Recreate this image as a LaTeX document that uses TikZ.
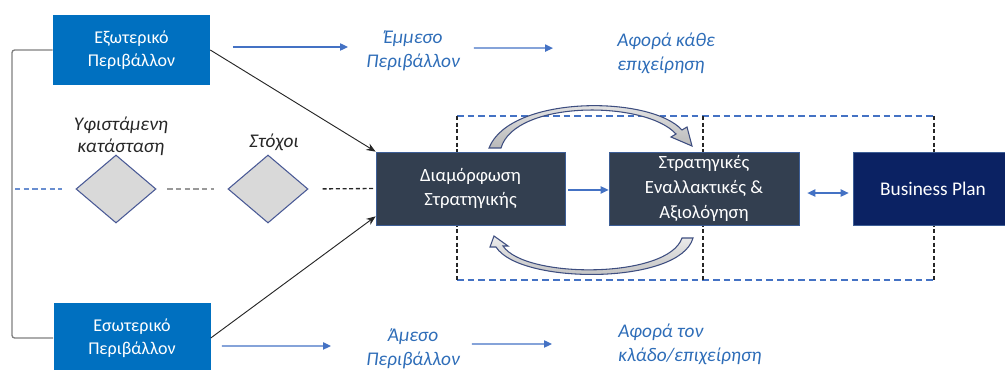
\documentclass[tikz,border=0pt]{standalone}
\usepackage{fontspec}
\setmainfont{Carlito}
\usetikzlibrary{arrows.meta,shapes.geometric}
\definecolor{envblue}{HTML}{0070C0}
\definecolor{slate}{HTML}{333F50}
\definecolor{navy}{HTML}{0B2263}
\definecolor{txtblue}{HTML}{2E6DB8}
\definecolor{arrblue}{HTML}{4472C4}
\definecolor{dmdfill}{HTML}{D9D9D9}
\definecolor{dmdline}{HTML}{4A5A96}
\definecolor{brkgray}{HTML}{7F7F7F}
\definecolor{curveline}{HTML}{3E4E80}
\definecolor{darktxt}{HTML}{262626}
\begin{document}
\begin{tikzpicture}[x=0.75pt,y=-0.75pt,
  envbox/.style={fill=envblue, text=white, minimum width=117.75pt, minimum height=52.5pt,
    inner sep=0pt, align=center, font=\fontsize{13.5}{17}\selectfont},
  darkbox/.style={fill=slate, draw=arrblue!60!slate, line width=0.5pt, text=white,
    minimum width=141.75pt, minimum height=54.75pt, inner sep=0pt, align=center,
    font=\fontsize{14}{18.5}\selectfont},
  diam/.style={diamond, fill=dmdfill, draw=dmdline, line width=0.8pt,
    minimum width=60pt, minimum height=51pt, inner sep=0pt},
  itxt/.style={text=darktxt, align=center, inner sep=0pt, font=\itshape\fontsize{14.5}{16.5}\selectfont},
  btxt/.style={text=txtblue, inner sep=0pt, font=\itshape\fontsize{14.5}{18}\selectfont},
  barrow/.style={draw=arrblue, line width=0.9pt, -{Triangle[length=6pt,width=5.5pt]}},
  dblarrow/.style={draw=arrblue, line width=0.9pt, {Triangle[length=6pt,width=5.5pt]}-{Triangle[length=6pt,width=5.5pt]}},
  karrow/.style={draw=black!85, line width=0.7pt, -{Stealth[length=7pt,width=5.5pt]}},
  brkline/.style={draw=brkgray, line width=1pt, rounded corners=2pt},
  bluedash/.style={draw=arrblue, line width=1pt, dash pattern=on 5pt off 3pt},
  blackdash/.style={draw=black!85, line width=1pt, dash pattern=on 3pt off 2pt},
  graydash/.style={draw=brkgray!80, line width=0.8pt, dash pattern=on 4pt off 2.5pt},
  lbluedash/.style={draw=arrblue!80, line width=0.8pt, dash pattern=on 4pt off 2.5pt},
  curvearrow/.style={draw=curveline, line width=0.8pt, top color=gray!15, bottom color=gray!55}
]
\useasboundingbox (0,0) rectangle (1005,370);
\clip (0,0) rectangle (1005,370);

% dashed frame (behind boxes)
\draw[bluedash] (457,116) -- (934,116);
\draw[bluedash] (457,280) -- (934,280);
\draw[blackdash] (457,116) -- (457,280);
\draw[blackdash] (703,116) -- (703,280);
\draw[blackdash] (934,116) -- (934,280);

% boxes
\node[envbox] (ext) at (131.5,50) {Εξωτερικό\\Περιβάλλον};
\node[envbox] (int) at (132,338) {Εσωτερικό\\Περιβάλλον};
\node[darkbox] (form) at (470.5,188.5) {Διαμόρφωση\\Στρατηγικής};
\node[darkbox, minimum width=142.5pt] (alt) at (704,188.5) {Στρατηγικές\\Εναλλακτικές \&\\Αξιολόγηση};
\node[darkbox, fill=navy, minimum width=120pt, font=\fontsize{14.5}{18}\selectfont] (bp) at (933,188.5) {Business Plan};

% diamonds and labels
\node[diam] (d1) at (116,189) {};
\node[diam] (d2) at (268,189) {};
\node[itxt] (yfist) at (121,136) {Υφιστάμενη\\κατάσταση};
\node[itxt] (stoxoi) at (274,142) {Στόχοι};
\coordinate (lstart) at (15,189);
\coordinate (brkc) at (12,190);

% blue texts
\node[btxt, align=center, minimum width=67.5pt] (emmeso) at (413,51) {Έμμεσο\\Περιβάλλον};
\node[btxt, align=left, anchor=west] (afora1) at (617,53.5) {Αφορά κάθε\\επιχείρηση};
\node[btxt, align=center, minimum width=67.5pt] (ameso) at (413,348.5) {Άμεσο\\Περιβάλλον};
\node[btxt, align=left, anchor=west] (afora2) at (618,344) {Αφορά τον\\κλάδο/επιχείρηση};

% bracket
\draw[brkline] (ext.west) -| (brkc) |- (int.west);

% dashed middle line
\draw[lbluedash, shorten >=10pt] (lstart) -- (d1.west);
\draw[graydash, shorten <=8pt, shorten >=10pt] (d1.east) -- (d2.west);
\draw[blackdash, shorten <=10.5pt] (d2.east) -- (form.west);

% diagonal arrows
\draw[karrow] (ext.east) -- (form.north west);
\draw[karrow] (int.east) -- ([yshift=6.75pt]form.south west);

% blue arrows top/bottom
\draw[barrow, shorten <=17pt, shorten >=13.5pt] ([yshift=2.25pt]ext.east) -- ([yshift=3pt]emmeso.west);
\draw[barrow, shorten <=10.5pt, shorten >=48pt] ([yshift=2.25pt]emmeso.east) -- ([yshift=4pt]afora1.west);
\draw[barrow, shorten <=8.25pt, shorten >=26.25pt] ([yshift=-6pt]int.east) -- ([yshift=1.9pt]ameso.west);
\draw[barrow, shorten <=9pt, shorten >=49.5pt] ([yshift=3.4pt]ameso.east) -- (afora2.west);

% arrows between boxes
\draw[barrow, shorten <=2.25pt] ([yshift=-1.1pt]form.east) -- ([yshift=-1.1pt]alt.west);
\draw[dblarrow, shorten <=6pt, shorten >=3pt] ([yshift=-3.4pt]alt.east) -- ([yshift=-3.4pt]bp.west);

% curved block arrows
\path[curvearrow] (489,148) .. controls (510,95) and (650,95) .. (682,130)
  -- (687,127) -- (692,146) -- (671,137) -- (676,134)
  .. controls (645,100) and (515,100) .. (501,148) -- cycle;
\path[curvearrow] (693,238) .. controls (680,285) and (520,285) .. (496,247)
  -- (490,247) -- (494,236) -- (508,246) -- (503,246)
  .. controls (525,279) and (668,279) .. (682,238) -- cycle;
\end{tikzpicture}
\end{document}
